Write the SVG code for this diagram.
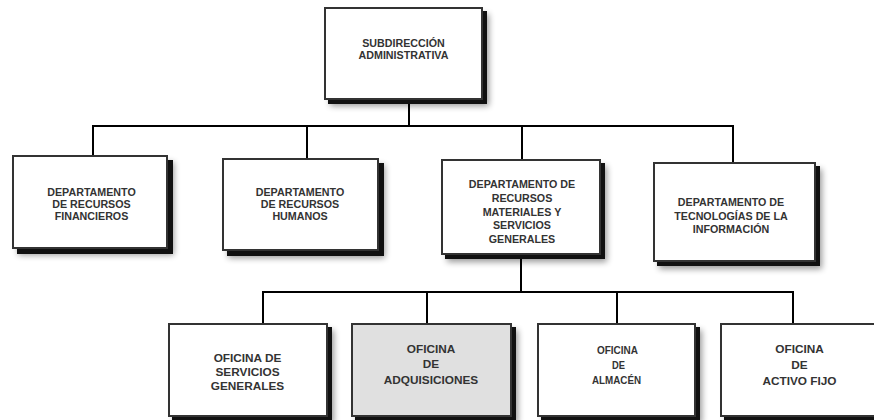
<svg xmlns="http://www.w3.org/2000/svg" width="874" height="420" viewBox="0 0 874 420">
<style>
.box{fill:#fff;stroke:#333;stroke-width:2}
.gray{fill:#e0e0e0}
.sh{fill:#111}
.blur{fill:#000;opacity:.4;filter:url(#b)}
.t{font-family:"Liberation Sans",Arial,sans-serif;font-weight:bold;fill:#333;text-anchor:middle}
.d{font-size:10.7px}
.o{font-size:11.8px}
#connectors line{stroke:#000;stroke-width:2}
</style>
<defs>
<filter id="b" x="-20%" y="-20%" width="140%" height="140%"><feGaussianBlur stdDeviation="3"/></filter>
</defs>
<rect width="874" height="420" fill="#fff"/>
<g id="connectors">
<line x1="409" y1="100" x2="409" y2="126"/>
<line x1="92" y1="126" x2="734" y2="126"/>
<line x1="93" y1="126" x2="93" y2="155"/>
<line x1="307" y1="126" x2="307" y2="158"/>
<line x1="522" y1="126" x2="522" y2="159"/>
<line x1="733" y1="126" x2="733" y2="162"/>
<line x1="521" y1="257" x2="521" y2="292"/>
<line x1="262" y1="292" x2="794" y2="292"/>
<line x1="263" y1="292" x2="263" y2="323"/>
<line x1="427" y1="292" x2="427" y2="323"/>
<line x1="617" y1="292" x2="617" y2="323"/>
<line x1="793" y1="292" x2="793" y2="323"/>
</g>
<g id="subdireccion">
<rect class="blur" x="330" y="14" width="159" height="92"/>
<rect class="sh" x="328" y="11" width="159" height="93"/>
<rect class="box" x="325" y="8" width="157" height="91"/>
<text class="t d" x="403.5" y="46.5">SUBDIRECCIÓN</text>
<text class="t d" x="403.5" y="59">ADMINISTRATIVA</text>
</g>
<g id="financieros">
<rect class="blur" x="18" y="162" width="156" height="93"/>
<rect class="sh" x="17" y="160" width="156" height="94"/>
<rect class="box" x="13" y="156" width="154" height="92"/>
<text class="t d" x="91.5" y="196">DEPARTAMENTO</text>
<text class="t d" x="91.5" y="208">DE RECURSOS</text>
<text class="t d" x="91.5" y="219.5">FINANCIEROS</text>
</g>
<g id="humanos">
<rect class="blur" x="228" y="165" width="157" height="93"/>
<rect class="sh" x="227" y="163" width="157" height="93"/>
<rect class="box" x="223" y="159" width="155" height="91"/>
<text class="t d" x="300" y="196">DEPARTAMENTO</text>
<text class="t d" x="300" y="208">DE RECURSOS</text>
<text class="t d" x="300" y="220">HUMANOS</text>
</g>
<g id="materiales">
<rect class="blur" x="447" y="166" width="160" height="96"/>
<rect class="sh" x="445" y="163" width="160" height="96"/>
<rect class="box" x="442" y="160" width="158" height="94"/>
<text class="t d" x="522" y="188">DEPARTAMENTO DE</text>
<text class="t d" x="522" y="201.7">RECURSOS</text>
<text class="t d" x="522" y="215.5">MATERIALES Y</text>
<text class="t d" x="522" y="229.3">SERVICIOS</text>
<text class="t d" x="522" y="243">GENERALES</text>
</g>
<g id="tecnologias">
<rect class="blur" x="659" y="169" width="163" height="100"/>
<rect class="sh" x="657" y="166" width="163" height="100"/>
<rect class="box" x="654" y="163" width="161" height="98"/>
<text class="t d" x="731" y="206">DEPARTAMENTO DE</text>
<text class="t d" x="731" y="219.5">TECNOLOGÍAS DE LA</text>
<text class="t d" x="731" y="233.3">INFORMACIÓN</text>
</g>
<g id="servicios-generales">
<rect class="blur" x="174" y="330" width="160" height="94"/>
<rect class="sh" x="172" y="327" width="160" height="94"/>
<rect class="box" x="169" y="324" width="158" height="92"/>
<text class="t o" x="247.5" y="361.7">OFICINA DE</text>
<text class="t o" x="247.5" y="375.7">SERVICIOS</text>
<text class="t o" x="247.5" y="390">GENERALES</text>
</g>
<g id="adquisiciones">
<rect class="blur" x="357" y="330" width="161" height="94"/>
<rect class="sh" x="355" y="327" width="161" height="94"/>
<rect class="box gray" x="352" y="324" width="159" height="92"/>
<text class="t o" x="431" y="353.3">OFICINA</text>
<text class="t o" x="431" y="368.3">DE</text>
<text class="t o" x="431" y="383.5">ADQUISICIONES</text>
</g>
<g id="almacen">
<rect class="blur" x="543" y="330" width="159" height="94"/>
<rect class="sh" x="541" y="327" width="159" height="94"/>
<rect class="box" x="538" y="324" width="157" height="92"/>
<text class="t" style="font-size:11.5px" x="617.5" y="354" textLength="41" lengthAdjust="spacingAndGlyphs">OFICINA</text>
<text class="t" style="font-size:11.5px" x="618.5" y="369" textLength="13" lengthAdjust="spacingAndGlyphs">DE</text>
<text class="t" style="font-size:11.5px" x="616.5" y="384.3" textLength="49" lengthAdjust="spacingAndGlyphs">ALMACÉN</text>
</g>
<g id="activo-fijo">
<rect class="blur" x="726" y="330" width="160" height="94"/>
<rect class="sh" x="724" y="327" width="160" height="94"/>
<rect class="box" x="721" y="324" width="158" height="92"/>
<text class="t o" x="799.5" y="353">OFICINA</text>
<text class="t o" x="799.5" y="369">DE</text>
<text class="t o" x="799.5" y="385">ACTIVO FIJO</text>
</g>
</svg>
